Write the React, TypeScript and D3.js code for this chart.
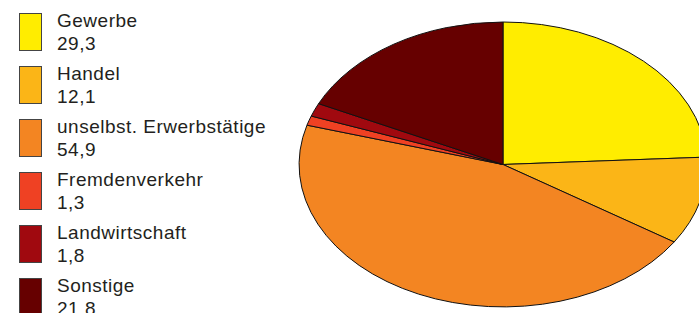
import React, {useRef, useEffect} from 'react';
import * as d3 from 'd3';

const categories = ['Gewerbe', 'Handel', 'unselbst. Erwerbstätige', 'Fremdenverkehr', 'Landwirtschaft', 'Sonstige'];
const values = [29.3, 12.1, 54.9, 1.3, 1.8, 21.8];
const valueLabels = ['29,3', '12,1', '54,9', '1,3', '1,8', '21,8'];
const colors = ['#ffed00', '#fbb517', '#f38522', '#ef4123', '#a0090f', '#660000'];

const W = 699;
const H = 313;

const App: React.FC = () => {
    const svgRef = useRef<SVGSVGElement>(null);

    useEffect(() => {
        if (!svgRef.current) return;
        const svg = d3.select(svgRef.current);
        svg.selectAll('*').remove();

        // ellipse pie: a circle of radius 1 stretched
        const cx = 503, cy = 164.5, rx = 204, ry = 142.5;
        const pie = d3.pie<number>().sort(null).value(d => d);
        const arc = d3.arc<d3.PieArcDatum<number>>().innerRadius(0).outerRadius(1);

        const g = svg.append('g')
            .attr('transform', `translate(${cx},${cy}) scale(${rx},${ry})`);

        g.selectAll('path')
            .data(pie(values))
            .join('path')
            .attr('d', arc)
            .attr('fill', (d, i) => colors[i])
            .attr('stroke', '#111')
            .attr('stroke-width', 1)
            .attr('stroke-linejoin', 'round')
            .attr('vector-effect', 'non-scaling-stroke');

        // legend
        const step = 53;
        const legend = svg.append('g');
        const font = (t: d3.Selection<SVGTextElement, unknown, null, undefined>) => t
            .style('font-family', '"Liberation Sans", Arial, sans-serif')
            .style('font-size', '19px')
            .style('letter-spacing', '0.5px')
            .style('fill', '#231f20');
        categories.forEach((c, i) => {
            const y0 = i * step;
            legend.append('rect')
                .attr('x', 19.5)
                .attr('y', 13.5 + y0)
                .attr('width', 22)
                .attr('height', 37)
                .attr('fill', colors[i])
                .attr('stroke', '#444')
                .attr('stroke-width', 1);
            legend.append('text')
                .attr('x', 57)
                .attr('y', 27 + y0)
                .call(font)
                .text(c);
            legend.append('text')
                .attr('x', 57)
                .attr('y', 50 + y0)
                .call(font)
                .text(valueLabels[i]);
        });
    }, []);

    return (
        <div style={{position: 'fixed', left: 0, top: 0, width: W, height: H, background: '#fff'}}>
            <svg ref={svgRef} width={W} height={H} style={{display: 'block'}}/>
        </div>
    );
};

export default App;
